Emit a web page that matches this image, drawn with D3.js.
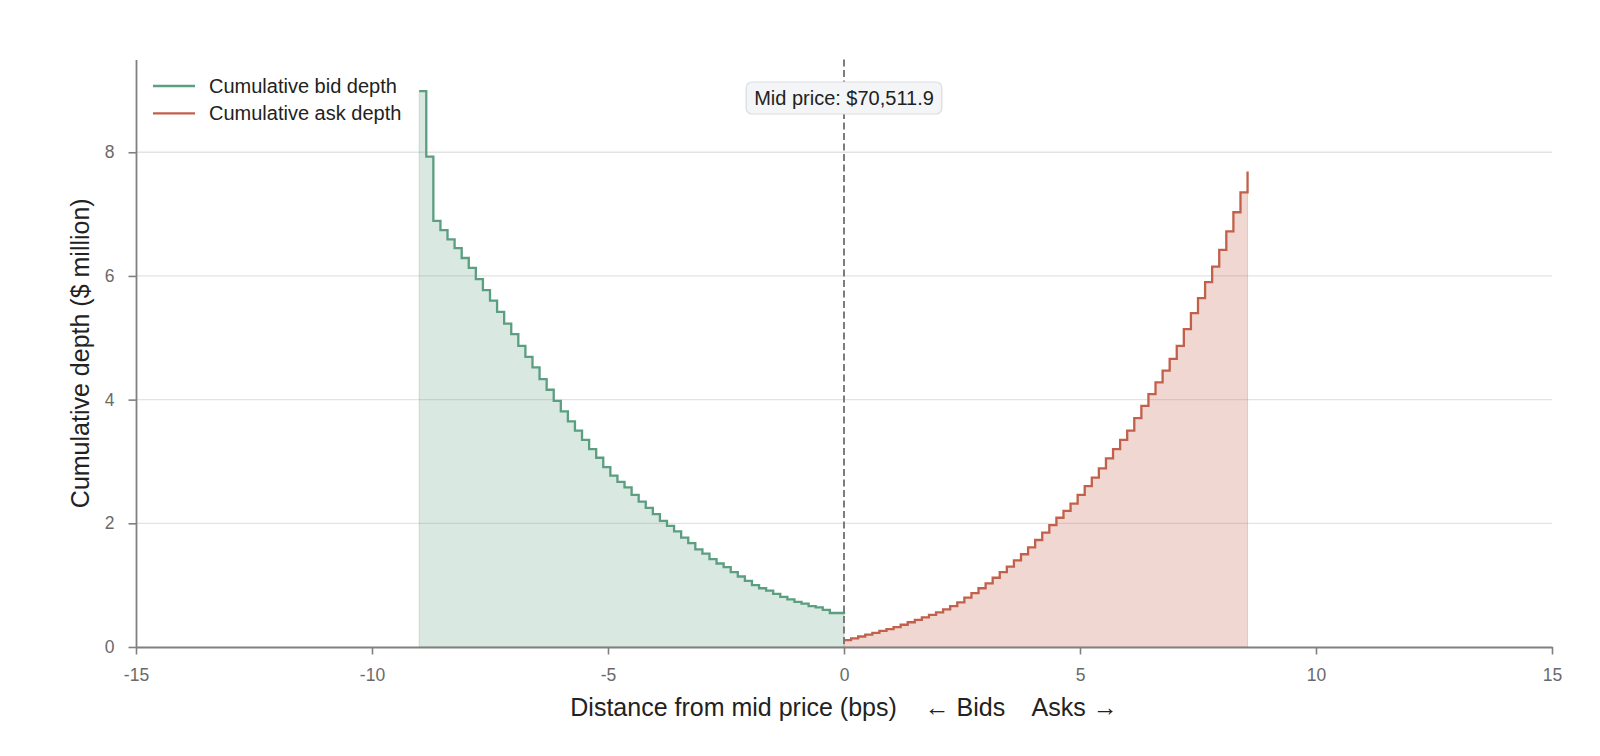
<!DOCTYPE html>
<html>
<head>
<meta charset="utf-8">
<script src="https://cdn.jsdelivr.net/npm/d3@7"></script>
<style>
  body { margin: 0; background: #fff; }
  svg { font-family: "Liberation Sans", Arial, sans-serif; }
</style>
</head>
<body>
<div id="chart"></div>
<script>
// bid side: start of each price step (bps from mid) and cumulative depth ($M)
const bidBps = [-9.00, -8.85, -8.70, -8.55, -8.40, -8.25, -8.10, -7.95, -7.80, -7.65,
  -7.50, -7.35, -7.20, -7.05, -6.90, -6.75, -6.60, -6.45, -6.30, -6.15,
  -6.00, -5.85, -5.70, -5.55, -5.40, -5.25, -5.10, -4.95, -4.80, -4.65,
  -4.50, -4.35, -4.20, -4.05, -3.90, -3.75, -3.60, -3.45, -3.30, -3.15,
  -3.00, -2.85, -2.70, -2.55, -2.40, -2.25, -2.10, -1.95, -1.80, -1.65,
  -1.50, -1.35, -1.20, -1.05, -0.90, -0.75, -0.60, -0.45, -0.30, 0.00];
const bidDepth = [8.99, 7.93, 6.89, 6.74, 6.59, 6.45, 6.29, 6.13, 5.95, 5.77,
  5.60, 5.42, 5.23, 5.06, 4.87, 4.69, 4.52, 4.33, 4.16, 3.98,
  3.81, 3.65, 3.50, 3.35, 3.20, 3.06, 2.91, 2.77, 2.67, 2.58,
  2.46, 2.35, 2.25, 2.15, 2.04, 1.96, 1.87, 1.77, 1.68, 1.58,
  1.51, 1.42, 1.35, 1.29, 1.21, 1.14, 1.07, 1.00, 0.95, 0.91,
  0.86, 0.81, 0.77, 0.73, 0.70, 0.66, 0.64, 0.60, 0.55, 0.53];

// ask side
const askBps = [0.00, 0.15, 0.30, 0.45, 0.60, 0.75, 0.90, 1.05, 1.20, 1.35,
  1.50, 1.65, 1.80, 1.95, 2.10, 2.25, 2.40, 2.55, 2.70, 2.85,
  3.00, 3.15, 3.30, 3.45, 3.60, 3.75, 3.90, 4.05, 4.20, 4.35,
  4.50, 4.65, 4.80, 4.95, 5.10, 5.25, 5.40, 5.55, 5.70, 5.85,
  6.00, 6.15, 6.30, 6.45, 6.60, 6.75, 6.90, 7.05, 7.20, 7.35,
  7.50, 7.65, 7.80, 7.95, 8.10, 8.25, 8.40, 8.55];
const askDepth = [0.11, 0.14, 0.17, 0.20, 0.23, 0.26, 0.29, 0.32, 0.36, 0.40,
  0.44, 0.48, 0.52, 0.56, 0.61, 0.66, 0.72, 0.80, 0.87, 0.95,
  1.03, 1.12, 1.21, 1.30, 1.40, 1.50, 1.61, 1.73, 1.85, 1.97,
  2.09, 2.20, 2.32, 2.46, 2.60, 2.74, 2.89, 3.05, 3.20, 3.35,
  3.50, 3.70, 3.90, 4.09, 4.28, 4.47, 4.66, 4.87, 5.14, 5.40,
  5.64, 5.90, 6.15, 6.42, 6.72, 7.03, 7.35, 7.69];

const midPrice = 70511.9;
const xTicks = [-15, -10, -5, 0, 5, 10, 15];
const yTicks = [0, 2, 4, 6, 8];

const bidColor = "#5b9e80";
const askColor = "#c2614b";

let width = 1600, height = 756;
let margin = {top: 59.5, right: 48, bottom: 109, left: 136};

let svg = d3.select("#chart")
  .append("svg")
  .attr("width", width)
  .attr("height", height);

let x = d3.scaleLinear().domain([-15, 15]).range([margin.left, width - margin.right]);
let y = d3.scaleLinear().domain([0, 9.5]).range([height - margin.bottom, margin.top]);

// grid
svg.append("g")
  .selectAll("line")
  .data(yTicks.filter(d => d > 0))
  .enter()
  .append("line")
  .attr("x1", x(-15))
  .attr("x2", x(15))
  .attr("y1", d => y(d))
  .attr("y2", d => y(d))
  .attr("stroke", "#e3e3e3")
  .attr("stroke-width", 1.3);

let bidPts = bidBps.map((b, i) => [b, bidDepth[i]]);
let askPts = askBps.map((a, i) => [a, askDepth[i]]);

let area = d3.area()
  .x(d => x(d[0]))
  .y0(y(0))
  .y1(d => y(d[1]))
  .curve(d3.curveStepAfter);

let line = d3.line()
  .x(d => x(d[0]))
  .y(d => y(d[1]))
  .curve(d3.curveStepAfter);

svg.append("path")
  .attr("d", area(bidPts))
  .attr("fill", bidColor)
  .attr("fill-opacity", 0.23)
  .attr("stroke", bidColor)
  .attr("stroke-opacity", 0.25);

// last ask point only closes the line, the fill stops at the previous level
svg.append("path")
  .attr("d", area(askPts.slice(0, -1).concat([[askBps[askBps.length - 1], askDepth[askDepth.length - 2]]])))
  .attr("fill", askColor)
  .attr("fill-opacity", 0.25)
  .attr("stroke", askColor)
  .attr("stroke-opacity", 0.25);

svg.append("path")
  .attr("d", line(bidPts))
  .attr("fill", "none")
  .attr("stroke", bidColor)
  .attr("stroke-width", 2.3);

svg.append("path")
  .attr("d", line(askPts))
  .attr("fill", "none")
  .attr("stroke", askColor)
  .attr("stroke-width", 2.3);

// axes
let xAxis = svg.append("g")
  .attr("transform", `translate(0,${y(0)})`)
  .call(d3.axisBottom(x).tickValues(xTicks).tickFormat(d => String(d))
    .tickSize(7.5).tickSizeOuter(0).tickPadding(14));
let yAxis = svg.append("g")
  .attr("transform", `translate(${x(-15)},0)`)
  .call(d3.axisLeft(y).tickValues(yTicks).tickFormat(d => String(d))
    .tickSize(7.5).tickSizeOuter(0).tickPadding(14));

[xAxis, yAxis].forEach(g => {
  g.select(".domain").attr("stroke", "#808080").attr("stroke-width", 1.8);
  g.selectAll(".tick line").attr("stroke", "#808080").attr("stroke-width", 1.6);
  g.selectAll(".tick text").attr("fill", "#6a6a6a").style("font-size", "17.5px");
});

// mid price marker
svg.append("line")
  .attr("x1", x(0))
  .attr("x2", x(0))
  .attr("y1", margin.top)
  .attr("y2", y(0))
  .attr("stroke", "#777")
  .attr("stroke-width", 1.9)
  .attr("stroke-dasharray", "7,3.5");

let label = svg.append("g").attr("transform", `translate(${x(0)},98)`);
let labelText = label.append("text")
  .attr("text-anchor", "middle")
  .attr("dy", "0.35em")
  .attr("fill", "#222")
  .style("font-size", "20px")
  .text("Mid price: $" + d3.format(",.1f")(midPrice));
let bb = labelText.node().getBBox();
label.insert("rect", "text")
  .attr("x", bb.x - 8)
  .attr("y", -16)
  .attr("width", bb.width + 16)
  .attr("height", 32)
  .attr("rx", 6)
  .attr("fill", "#f4f5f6")
  .attr("stroke", "#dadde1")
  .attr("stroke-width", 1.2);

// legend
let legend = svg.append("g").attr("transform", "translate(153,86)");
[["Cumulative bid depth", bidColor], ["Cumulative ask depth", askColor]].forEach((d, i) => {
  legend.append("line")
    .attr("x1", 0).attr("x2", 42)
    .attr("y1", i * 27.3).attr("y2", i * 27.3)
    .attr("stroke", d[1])
    .attr("stroke-width", 2.3);
  legend.append("text")
    .attr("x", 56)
    .attr("y", i * 27.3)
    .attr("dy", "0.35em")
    .attr("fill", "#222")
    .style("font-size", "20px")
    .text(d[0]);
});

// axis titles
svg.append("text")
  .attr("x", x(0))
  .attr("y", 716)
  .attr("text-anchor", "middle")
  .attr("fill", "#222")
  .style("font-size", "25px")
  .style("white-space", "pre")
  .attr("xml:space", "preserve")
  .text("Distance from mid price (bps)    \u2190 Bids    Asks \u2192");

svg.append("text")
  .attr("transform", `translate(89,${(y(0) + margin.top) / 2}) rotate(-90)`)
  .attr("text-anchor", "middle")
  .attr("fill", "#222")
  .style("font-size", "25px")
  .text("Cumulative depth ($ million)");
</script>
</body>
</html>
